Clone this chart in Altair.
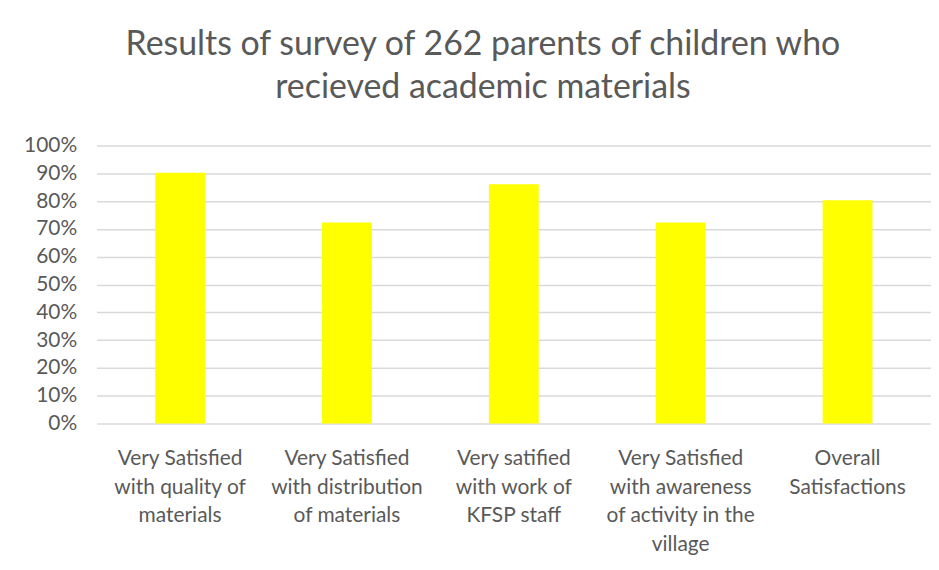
import altair as alt
import pandas as pd

categories = [
    "Very Satisfied|with quality of|materials",
    "Very Satisfied|with distribution|of materials",
    "Very satified|with work of|KFSP staff",
    "Very Satisfied|with awareness|of activity in the|village",
    "Overall|Satisfactions",
]
values = [0.902, 0.723, 0.861, 0.723, 0.803]
y_ticks = [i / 10 for i in range(11)]

df = pd.DataFrame({"category": categories, "value": values})

FONT = "Lato"
GREY = "#595959"

chart = (
    alt.Chart(df)
    .mark_bar(color="#FFFF00", size=50)
    .encode(
        x=alt.X(
            "category:N",
            sort=categories,
            title=None,
            axis=alt.Axis(
                labelAngle=0,
                labelExpr="split(datum.label, '|')",
                labelFont=FONT,
                labelFontSize=21,
                labelColor=GREY,
                labelLineHeight=29,
                labelPadding=24,
                labelBaseline="top",
                ticks=False,
                domain=False,
                labelLimit=0,
            ),
        ),
        y=alt.Y(
            "value:Q",
            title=None,
            scale=alt.Scale(domain=[0, 1], nice=False),
            axis=alt.Axis(
                values=y_ticks,
                format=".0%",
                labelFont=FONT,
                labelFontSize=21,
                labelColor=GREY,
                labelPadding=20,
                ticks=False,
                domain=False,
                gridColor="#d9d9d9",
                gridWidth=1.5,
            ),
        ),
    )
    .properties(
        width=838,
        height=279,
        padding={"left": 89, "top": 137, "right": 0, "bottom": 138},
        autosize=alt.AutoSizeParams(type="none"),
        title=alt.TitleParams(
            text=["Results of survey of 262 parents of children who", "recieved academic materials"],
            font=FONT,
            fontSize=34,
            fontWeight="normal",
            color=GREY,
            anchor="middle",
            frame="group",
            lineHeight=43,
            offset=30,
            dx=-31,
        ),
    )
    .configure_view(stroke=None)
)

chart.save("out.html", embed_options={"renderer": "svg", "actions": False})
